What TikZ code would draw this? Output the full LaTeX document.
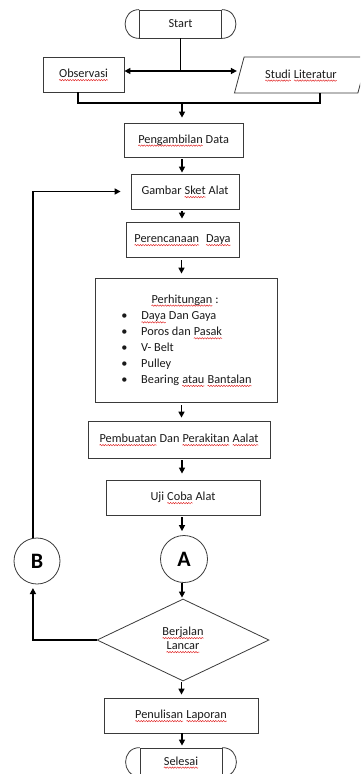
\documentclass[tikz,border=0pt]{standalone}
\usepackage{fontspec}
\setmainfont{Carlito}
\usetikzlibrary{shapes.geometric,arrows.meta,calc,decorations.pathmorphing}
\definecolor{bordc}{HTML}{3A3A3A}
\definecolor{txtc}{HTML}{1A1A1A}
\definecolor{spellred}{HTML}{E02424}
\newcommand\wavy[1]{\tikz[baseline=(w.base),x=1pt,y=1pt]{%
  \node[shape=rectangle, inner sep=0pt, outer sep=0pt, minimum width=0pt,
    minimum height=0pt, text height=, text depth=, anchor=base] (w) at (0,0) {#1};
  \draw[spellred, line width=0.45pt, decorate,
    decoration={snake, amplitude=0.7pt, segment length=2.6pt}]
    ([yshift=-2.6pt]w.base west) -- ([yshift=-2.6pt]w.base east);}}
\tikzset{
  box/.style={draw=bordc, line width=0.8pt, inner sep=0pt, text=txtc,
    text height=8.5pt, text depth=2.5pt},
  txt/.style={inner sep=0pt, text=txtc, text height=8.5pt, text depth=2.5pt},
  bord/.style={draw=bordc, line width=0.8pt},
  conn/.style={line width=1.5pt, black},
  arr/.style={conn, -{Triangle[length=6pt,width=6pt]}, shorten >=3pt, shorten <=1.5pt},
  conncircle/.style={circle, draw=bordc, line width=0.8pt, inner sep=0pt,
    font=\fontsize{22}{24}\selectfont\bfseries},
}
\begin{document}
\begin{tikzpicture}[x=1pt, y=-1pt, font=\fontsize{12.3}{14}\selectfont]
\useasboundingbox (0,0) rectangle (360,774);
\clip (0,0) rectangle (360,774);

% Start terminator
\node[box, minimum width=82pt, minimum height=28pt] (start) at (180.5,24) {Start};
\draw[bord] (start.north west) .. controls ($(start.north west)+(-18.7,0)$) and ($(start.south west)+(-18.7,0)$) .. (start.south west);
\draw[bord] (start.north east) .. controls ($(start.north east)+(18.7,0)$) and ($(start.south east)+(18.7,0)$) .. (start.south east);

% Observasi and Studi Literatur
\node[box, minimum width=81pt, minimum height=35pt] (obs) at (83.5,74.5) {\wavy{Observasi}};
\node[box, trapezium, trapezium left angle=61, trapezium right angle=119,
  trapezium stretches=true, minimum width=134pt, minimum height=36pt] (studi) at (301,75)
  {\wavy{Studi} \wavy{Literatur}};

\coordinate (j) at (180.5,71);
\coordinate (m) at (182,103);
\draw[conn] (start.south) -- (j);
\draw[arr, shorten >=0pt, shorten <=0pt] (j) -- (obs.east |- j);
\draw[arr, shorten >=2pt, shorten <=0pt] (j) -- (studi.west |- j);
\draw[conn] ([xshift=-5.5pt]obs.south) |- ([xshift=19pt]studi.south |- m) -- ([xshift=19pt]studi.south);

% Main column
\node[box, minimum width=119pt, minimum height=34pt] (peng) at (183.5,140) {\wavy{Pengambilan} Data};
\node[box, minimum width=108pt, minimum height=35pt] (gambar) at (185,191.5) {Gambar \wavy{Sket} Alat};
\node[box, minimum width=113pt, minimum height=35pt] (perenc) at (182.5,239.5) {\wavy{Perencanaan}\hspace{0.3em} \wavy{Daya}};
\node[box, minimum width=182pt, minimum height=124pt] (perh) at (186,340) {};
\node[txt] (perht) at (185,300) {\wavy{Perhitungan} :};
\node[txt] (b1) at (124.5,316.7) {\textbullet};
\node[txt] (b2) at (124.5,332.7) {\textbullet};
\node[txt] (b3) at (124.5,348.3) {\textbullet};
\node[txt] (b4) at (124.5,364) {\textbullet};
\node[txt] (b5) at (124.5,380.3) {\textbullet};
\node[txt, anchor=west] (i1) at (141,316.7) {\wavy{Daya} Dan Gaya};
\node[txt, anchor=west] (i2) at (141,332.7) {Poros dan \wavy{Pasak}};
\node[txt, anchor=west] (i3) at (141,348.3) {V- Belt};
\node[txt, anchor=west] (i4) at (141,364) {Pulley};
\node[txt, anchor=west] (i5) at (141,380.3) {Bearing \wavy{atau} \wavy{Bantalan}};
\node[box, minimum width=182pt, minimum height=37pt] (pemb) at (179,439.5) {\wavy{Pembuatan} Dan \wavy{Perakitan} \wavy{Aalat}};
\node[box, minimum width=154pt, minimum height=35pt] (uji) at (183,497.5) {Uji \wavy{Coba} Alat};
\node[conncircle, minimum size=47pt] (A) at (184,559) {A};
\node[conncircle, minimum size=46pt] (B) at (37,561) {B};
\node[diamond, draw=bordc, line width=0.8pt, inner sep=0pt, aspect=2.1,
  minimum width=172pt, minimum height=82pt, align=center, text=txtc] (diam) at (183,640)
  {\wavy{Berjalan}\\\wavy{Lancar}};
\node[box, minimum width=154pt, minimum height=35pt] (pen) at (181,715.5) {\wavy{Penulisan} \wavy{Laporan}};

% Selesai terminator
\node[box, minimum width=82pt, minimum height=28pt] (sel) at (181,762) {\wavy{Selesai}};
\draw[bord] (sel.north west) .. controls ($(sel.north west)+(-18.7,0)$) and ($(sel.south west)+(-18.7,0)$) .. (sel.south west);
\draw[bord] (sel.north east) .. controls ($(sel.north east)+(18.7,0)$) and ($(sel.south east)+(18.7,0)$) .. (sel.south east);

% Vertical arrows
\draw[arr, shorten >=5pt, shorten <=0pt] (m) -- (m |- peng.north);
\draw[arr, shorten >=1pt] (182,157) coordinate (p1) (p1 |- peng.south) -- (p1 |- gambar.north);
\draw[arr] (182,200) coordinate (p2) (p2 |- gambar.south) -- (p2 |- perenc.north);
\draw[arr, shorten >=4pt, shorten <=3pt] (181.5,260) coordinate (p3) (p3 |- perenc.south) -- (p3 |- perh.north);
\draw[arr, shorten <=3pt] (181.5,410) coordinate (p4) (p4 |- perh.south) -- (p4 |- pemb.north);
\draw[arr, shorten >=6pt, shorten <=2pt] (182,470) coordinate (p5) (p5 |- pemb.south) -- (p5 |- uji.north);
\draw[arr, shorten >=4pt, shorten <=2pt] (182,520) coordinate (p6) (p6 |- uji.south) -- (p6 |- A.north);
\draw[arr, shorten >=1pt, shorten <=0pt] (182,590) coordinate (p7) (p7 |- A.south) -- (p7 |- diam.north);
\draw[arr, shorten <=1pt] (181.5,690) coordinate (p8) (p8 |- diam.south) -- (p8 |- pen.north);
\draw[arr, shorten >=2pt, shorten <=0pt] (182,740) coordinate (p9) (p9 |- pen.south) -- (p9 |- sel.north);

% Loop back
\draw[arr, shorten >=4pt, shorten <=0pt] (diam.west) -| (B.260);
\draw[arr, shorten >=10pt, shorten <=0pt] (B.100) |- (gambar.west);
\end{tikzpicture}
\end{document}
